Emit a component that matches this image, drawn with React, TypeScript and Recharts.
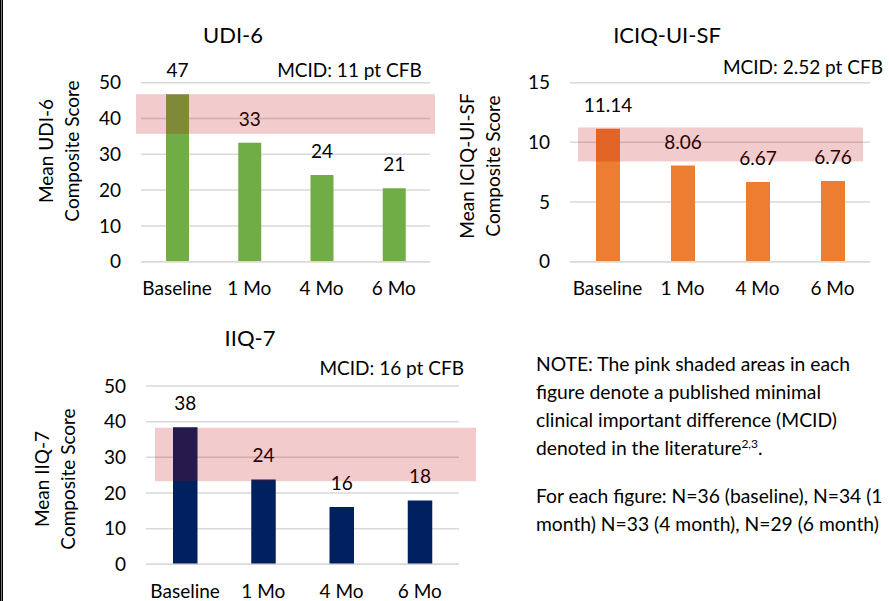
import { Bar, BarChart, CartesianGrid, LabelList, ReferenceArea, XAxis, YAxis } from "recharts";

const periods = ["Baseline", "1 Mo", "4 Mo", "6 Mo"];

const udiValues = [46.8, 33.2, 24.2, 20.5];
const iciqValues = [11.14, 8.06, 6.67, 6.76];
const iiqValues = [38.4, 23.8, 16.1, 17.9];

const udiTicks = [0, 10, 20, 30, 40, 50];
const iciqTicks = [0, 5, 10, 15];
const iiqTicks = [0, 10, 20, 30, 40, 50];

// MCID shaded bands (low, high)
const udiBand = [35.7, 46.8];
const iciqBand = [8.4, 11.25];
const iiqBand = [23.3, 38.3];

const FONT = "Lato, 'Open Sans', sans-serif";
const INK = "#000";
const GRID = "#D9D9D9";

const round0 = (v: any) => String(Math.round(Number(v)));
const fixed2 = (v: any) => Number(v).toFixed(2);

function makeBand(padLeft: number, padRight: number) {
  return (p: any) => (
    <rect
      x={p.x - padLeft}
      y={p.y}
      width={p.width + padLeft + padRight}
      height={p.height}
      fill="#C00000"
      fillOpacity={0.2}
    />
  );
}

function yLabel(lines: string[], x: number, y: number) {
  return {
    content: () => (
      <text
        transform={`translate(${x},${y}) rotate(-90)`}
        textAnchor="middle"
        fontSize={19}
        fontFamily={FONT}
        fill={INK}
      >
        <tspan x={0} dy={0}>{lines[0]}</tspan>
        <tspan x={0} dy={26}>{lines[1]}</tspan>
      </text>
    ),
  };
}

interface PanelProps {
  values: number[];
  ticks: number[];
  band: number[];
  color: string;
  width: number;
  height: number;
  margin: { top: number; right: number; bottom: number; left: number };
  yAxisWidth: number;
  barSize: number;
  bandPad: [number, number];
  labelLines: string[];
  labelX: number;
  labelY: number;
  fmt: (v: any) => string;
}

function Panel(props: PanelProps) {
  const rows = periods.map((period, i) => ({ period, value: props.values[i] }));
  const max = props.ticks[props.ticks.length - 1];
  return (
    <BarChart width={props.width} height={props.height} data={rows} margin={props.margin}>
      <CartesianGrid vertical={false} stroke={GRID} strokeWidth={1.5} />
      <XAxis
        dataKey="period"
        interval={0}
        tickLine={false}
        tickSize={0}
        tickMargin={20}
        axisLine={{ stroke: GRID, strokeWidth: 1.5 }}
        tick={{ fill: INK, fontSize: 19, fontFamily: FONT }}
      />
      <YAxis
        domain={[0, max]}
        ticks={props.ticks}
        width={props.yAxisWidth}
        axisLine={false}
        tickLine={false}
        tickSize={0}
        tickMargin={20}
        tick={{ fill: INK, fontSize: 19, fontFamily: FONT }}
        label={yLabel(props.labelLines, props.labelX, props.labelY)}
      />
      <Bar dataKey="value" fill={props.color} barSize={props.barSize} isAnimationActive={false}>
        <LabelList
          dataKey="value"
          position="top"
          offset={17}
          formatter={props.fmt}
          fill={INK}
          fontSize={19}
          fontFamily={FONT}
        />
      </Bar>
      <ReferenceArea
        y1={props.band[0]}
        y2={props.band[1]}
        ifOverflow="visible"
        zIndex={2500}
        shape={makeBand(props.bandPad[0], props.bandPad[1])}
      />
    </BarChart>
  );
}

export default function App() {
  return (
    <div
      style={{
        position: "absolute",
        left: 0,
        top: 0,
        width: 889,
        height: 601,
        overflow: "hidden",
        background: "#fff",
        fontFamily: FONT,
        color: INK,
      }}
    >
      <style>{"body{margin:0}"}</style>
      <div
        style={{
          position: "absolute",
          left: 0,
          top: 0,
          width: 1,
          height: 601,
          background: "#777",
          borderLeft: "1px solid #000",
          borderRight: "1px solid #000",
        }}
      />

      <div style={{ position: "absolute", left: 0, top: 0 }}>
        <Panel
          values={udiValues}
          ticks={udiTicks}
          band={udiBand}
          color="#70AD47"
          width={440}
          height={310}
          margin={{ top: 82.7, right: 10, bottom: 18.3, left: 0 }}
          yAxisWidth={141}
          barSize={23}
          bandPad={[5, 5]}
          labelLines={["Mean UDI-6", "Composite Score"]}
          labelX={52.7}
          labelY={151}
          fmt={round0}
        />
      </div>

      <div style={{ position: "absolute", left: 440, top: 0 }}>
        <Panel
          values={iciqValues}
          ticks={iciqTicks}
          band={iciqBand}
          color="#ED7D31"
          width={449}
          height={310}
          margin={{ top: 82.7, right: 19, bottom: 18.3, left: 0 }}
          yAxisWidth={130}
          barSize={24}
          bandPad={[-8, -7]}
          labelLines={["Mean ICIQ-UI-SF", "Composite Score"]}
          labelX={33.7}
          labelY={166}
          fmt={fixed2}
        />
      </div>

      <div style={{ position: "absolute", left: 0, top: 310 }}>
        <Panel
          values={iiqValues}
          ticks={iiqTicks}
          band={iiqBand}
          color="#002060"
          width={500}
          height={291}
          margin={{ top: 76, right: 41, bottom: 6.7, left: 0 }}
          yAxisWidth={146}
          barSize={24.5}
          bandPad={[-9, 17]}
          labelLines={["Mean IIQ-7", "Composite Score"]}
          labelX={49.4}
          labelY={169}
          fmt={round0}
        />
      </div>

      <svg
        width={889}
        height={601}
        style={{ position: "absolute", left: 0, top: 0, pointerEvents: "none" }}
        fontFamily={FONT}
        fill={INK}
      >
        <text x={233} y={43.3} fontSize={22} textAnchor="middle">UDI-6</text>
        <text x={667} y={43.3} fontSize={22} textAnchor="middle">ICIQ-UI-SF</text>
        <text x={250} y={346} fontSize={22} textAnchor="middle">IIQ-7</text>
        <text x={421.7} y={77.3} fontSize={19} textAnchor="end">MCID: 11 pt CFB</text>
        <text x={883} y={74} fontSize={19} textAnchor="end">MCID: 2.52 pt CFB</text>
        <text x={464} y={375} fontSize={19} textAnchor="end">MCID: 16 pt CFB</text>
      </svg>

      <div
        style={{
          position: "absolute",
          left: 536,
          top: 350.4,
          fontSize: 19.3,
          lineHeight: "27.7px",
          whiteSpace: "nowrap",
        }}
      >
        <div>
          NOTE: The pink shaded areas in each
          <br />
          figure denote a published minimal
          <br />
          clinical important difference (MCID)
          <br />
          denoted in the literature
          <span style={{ fontSize: 12, verticalAlign: "7px", lineHeight: 0 }}>2,3</span>.
        </div>
        <div style={{ marginTop: 20.9 }}>
          For each figure: N=36 (baseline), N=34 (1
          <br />
          month) N=33 (4 month), N=29 (6 month)
        </div>
      </div>
    </div>
  );
}
